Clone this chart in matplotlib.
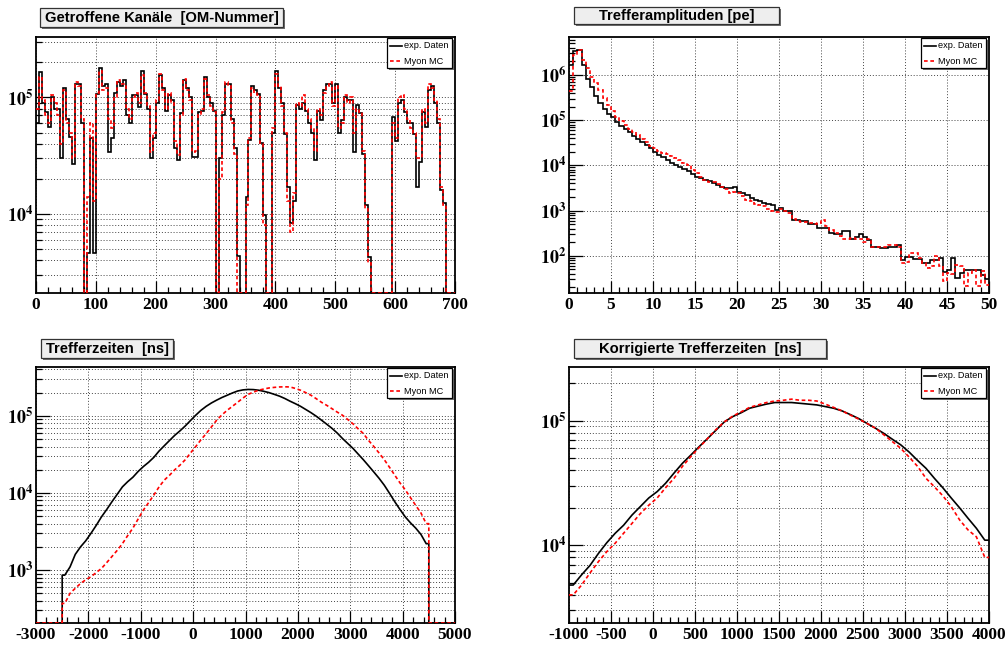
import numpy as np
import matplotlib.pyplot as plt
from matplotlib.patches import Rectangle
from matplotlib.lines import Line2D
from matplotlib.ticker import LogLocator, MultipleLocator, FuncFormatter, NullFormatter

plt.rcParams['mathtext.fontset'] = 'stix'
plt.rcParams['axes.unicode_minus'] = False

# ---- data (bin contents) ----
# Getroffene Kanaele: bins of 5 OM numbers, 0..700
om_width = 5
om_data = [
    6e4, 1.65e5, 9e4, 7.5e4, 5.6e4, 1.0e5, 8e4, 8e4, 3e4, 1.2e5,
    6.5e4, 4.6e4, 2.7e4, 1.3e5, 1.3e5, 6e4, 0, 4.6e3, 4.5e4, 4.6e3,
    1.08e5, 1.8e5, 1.25e5, 1.3e5, 3.4e4, 4.5e4, 1.1e5, 1.35e5, 1.25e5, 1.4e5,
    7e4, 6e4, 1.05e5, 1.05e5, 8.3e4, 1.67e5, 1.08e5, 8e4, 3e4, 4.5e4,
    9e4, 1.55e5, 1.2e5, 7.7e4, 1.05e5, 9.5e4, 3.7e4, 2.9e4, 7.3e4, 1.4e5,
    1.2e5, 1e5, 3.1e4, 3.1e4, 7.5e4, 7.7e4, 1.5e5, 1e5, 9e4, 7.7e4,
    0, 3e4, 7e4, 1.3e5, 1.3e5, 6.5e4, 3.7e4, 4.4e3, 0, 0,
    1.4e4, 4.3e4, 1.25e5, 1.15e5, 1.08e5, 4.1e4, 9.9e3, 0, 0, 5e4,
    1.67e5, 1.2e5, 9e4, 4.9e4, 1.7e4, 8.3e3, 1.3e4, 8.6e4, 8e4, 9e4,
    7.7e4, 6e4, 5e4, 2.9e4, 7.7e4, 6.4e4, 1.16e5, 1.3e5, 1.3e5, 8.9e4,
    1.3e5, 5e4, 6.4e4, 1e5, 9.5e4, 9.5e4, 3.4e4, 8.6e4, 7.3e4, 3.3e4,
    1.2e4, 4.3e3, 0, 0, 0, 0, 0, 0, 0, 6.8e4,
    4.2e4, 9e4, 9.5e4, 7.5e4, 6e4, 6e4, 4.9e4, 1.7e4, 2.8e4, 7.5e4,
    5.6e4, 1.16e5, 1.25e5, 9e4, 6e4, 1.6e4, 1.25e4, 0, 0, 0,
]
om_mc = [
    8e4, 1.5e5, 9.5e4, 7e4, 6e4, 1.05e5, 9e4, 7e4, 4e4, 1.15e5,
    6e4, 5e4, 3e4, 1.35e5, 1.25e5, 6.5e4, 0, 1.4e4, 6e4, 1.3e4,
    1.1e5, 1.7e5, 1.15e5, 1.2e5, 6.5e4, 5.5e4, 1.0e5, 1.4e5, 1.3e5, 1.3e5,
    8e4, 6.5e4, 1.0e5, 1.1e5, 9e4, 1.55e5, 1.1e5, 8.5e4, 3.4e4, 5e4,
    9.5e4, 1.6e5, 1.15e5, 8e4, 1.1e5, 9e4, 4.2e4, 3.2e4, 7e4, 1.45e5,
    1.15e5, 9.5e4, 3.4e4, 3.5e4, 7e4, 8e4, 1.45e5, 1.05e5, 8.5e4, 7.5e4,
    0, 2e4, 7.5e4, 1.35e5, 1.25e5, 6e4, 3.3e4, 0, 0, 0,
    1.2e4, 4.5e4, 1.2e5, 1.1e5, 1.05e5, 4e4, 8e3, 0, 0, 5.5e4,
    1.6e5, 1.25e5, 8.5e4, 5e4, 1.3e4, 7e3, 1.5e4, 9e4, 8.5e4, 1.05e5,
    8e4, 6.5e4, 5.5e4, 3.5e4, 8e4, 7e4, 1.1e5, 1.25e5, 1.35e5, 8.5e4,
    1.25e5, 5.5e4, 6e4, 1.05e5, 9e4, 1e5, 5e4, 8e4, 7.5e4, 3.5e4,
    1.1e4, 3.8e3, 0, 0, 0, 0, 0, 0, 0, 6e4,
    4.5e4, 1e5, 1.05e5, 8e4, 6.5e4, 5.5e4, 5e4, 3e4, 3e4, 8e4,
    6e4, 1.3e5, 1.2e5, 9.5e4, 6.5e4, 1.7e4, 1.2e4, 0, 0, 0,
]

# Trefferamplituden: bins of 0.5 pe, 0..50
amp_width = 0.5
amp_data = [
    1.7e6, 3.4e6, 3.5e6, 1.66e6, 8.2e5, 5.3e5, 3.5e5, 2.4e5, 1.8e5, 1.4e5,
    1.15e5, 9.3e4, 7.6e4, 6.5e4, 5.5e4, 4.5e4, 3.8e4, 3.3e4, 2.8e4, 2.4e4,
    2.0e4, 1.7e4, 1.5e4, 1.3e4, 1.15e4, 1.0e4, 9.0e3, 8.2e3, 7.4e3, 6.4e3,
    5.6e3, 5.2e3, 4.8e3, 4.4e3, 4.0e3, 3.7e3, 3.4e3, 3.2e3, 3.1e3, 3.4e3,
    2.6e3, 2.4e3, 2.2e3, 1.9e3, 1.74e3, 1.6e3, 1.45e3, 1.4e3, 1.34e3, 1.05e3,
    1.15e3, 1.0e3, 1.0e3, 630, 630, 600, 600, 510, 510, 410,
    420, 420, 320, 310, 300, 350, 350, 240, 260, 300,
    260, 220, 160, 160, 150, 150, 160, 160, 170, 82,
    95, 95, 85, 85, 70, 70, 82, 82, 90, 43,
    49, 90, 32, 42, 48, 48, 48, 48, 38, 30,
]
amp_mc = [
    4.3e5, 2.8e6, 3.5e6, 2.1e6, 1.4e6, 9.2e5, 6.6e5, 4.7e5, 3.1e5, 2.2e5,
    1.6e5, 1.2e5, 9.4e4, 7.9e4, 6.5e4, 5.5e4, 4.6e4, 3.9e4, 3.3e4, 2.7e4,
    2.4e4, 2.1e4, 1.9e4, 1.75e4, 1.6e4, 1.45e4, 1.3e4, 1.15e4, 1.0e4, 8.0e3,
    6.8e3, 5.6e3, 4.8e3, 4.3e3, 4.2e3, 3.8e3, 3.4e3, 3.0e3, 2.4e3, 2.6e3,
    2.5e3, 2.1e3, 1.74e3, 1.6e3, 1.4e3, 1.35e3, 1.27e3, 1.1e3, 1.0e3, 950,
    1.1e3, 1.0e3, 880, 650, 580, 560, 550, 530, 500, 520,
    630, 450, 370, 320, 270, 240, 230, 250, 230, 230,
    200, 240, 160, 160, 160, 160, 175, 175, 160, 70,
    74, 115, 118, 90, 70, 54, 60, 100, 58, 27,
    42, 40, 63, 58, 21, 42, 49, 21, 45, 23,
]

# Trefferzeiten: bins of 100 ns, -3000..5000
t_start, t_width = -3000, 100
t_data = [0] * 5 + [
    860, 1.1e3, 1.6e3, 2.0e3, 2.4e3, 3.0e3, 3.8e3, 4.9e3, 6.1e3, 7.7e3,
    9.6e3, 1.2e4, 1.4e4, 1.6e4, 1.9e4, 2.2e4, 2.5e4, 2.9e4, 3.5e4, 4.1e4,
    4.8e4, 5.6e4, 6.4e4, 7.4e4, 8.7e4, 1.02e5, 1.18e5, 1.33e5, 1.47e5, 1.6e5,
    1.73e5, 1.85e5, 1.98e5, 2.1e5, 2.17e5, 2.2e5, 2.19e5, 2.15e5, 2.08e5, 2.0e5,
    1.9e5, 1.8e5, 1.68e5, 1.55e5, 1.44e5, 1.33e5, 1.21e5, 1.1e5, 9.9e4, 8.8e4,
    7.8e4, 6.9e4, 6.0e4, 5.1e4, 4.4e4, 3.8e4, 3.2e4, 2.7e4, 2.25e4, 1.87e4,
    1.55e4, 1.26e4, 9.9e3, 7.7e3, 6.1e3, 4.9e3, 4.1e3, 3.5e3, 2.9e3, 2.2e3,
] + [0] * 5
t_mc = [0] * 5 + [
    370, 500, 580, 670, 750, 820, 930, 1.05e3, 1.25e3, 1.5e3,
    1.8e3, 2.2e3, 2.8e3, 3.5e3, 4.6e3, 6.0e3, 7.5e3, 9.4e3, 1.2e4, 1.47e4,
    1.7e4, 2.0e4, 2.3e4, 2.7e4, 3.3e4, 4.0e4, 4.9e4, 5.9e4, 7.2e4, 8.8e4,
    1.03e5, 1.18e5, 1.33e5, 1.5e5, 1.7e5, 1.9e5, 2.03e5, 2.15e5, 2.23e5, 2.3e5,
    2.34e5, 2.37e5, 2.38e5, 2.37e5, 2.27e5, 2.15e5, 2.0e5, 1.85e5, 1.67e5, 1.5e5,
    1.37e5, 1.24e5, 1.12e5, 1.02e5, 9.0e4, 7.9e4, 6.8e4, 5.9e4, 4.8e4, 4.0e4,
    3.3e4, 2.7e4, 2.15e4, 1.7e4, 1.35e4, 1.1e4, 8.7e3, 6.9e3, 5.5e3, 4.0e3,
] + [0] * 5

# Korrigierte Trefferzeiten: bins of 100 ns, -1000..4000
k_start, k_width = -1000, 100
k_data = [
    4.8e3, 5.8e3, 6.9e3, 8.6e3, 1.05e4, 1.25e4, 1.45e4, 1.75e4, 2.05e4, 2.4e4,
    2.7e4, 3.15e4, 3.8e4, 4.55e4, 5.3e4, 6.2e4, 7.2e4, 8.4e4, 9.8e4, 1.08e5,
    1.16e5, 1.26e5, 1.31e5, 1.36e5, 1.4e5, 1.4e5, 1.4e5, 1.38e5, 1.36e5, 1.34e5,
    1.3e5, 1.26e5, 1.2e5, 1.12e5, 1.04e5, 9.5e4, 8.7e4, 7.9e4, 7.1e4, 6.4e4,
    5.6e4, 4.8e4, 4.15e4, 3.45e4, 2.9e4, 2.4e4, 2.0e4, 1.65e4, 1.37e4, 1.1e4,
]
k_mc = [
    4.0e3, 4.8e3, 6.0e3, 7.4e3, 8.9e3, 1.04e4, 1.25e4, 1.5e4, 1.8e4, 2.1e4,
    2.4e4, 2.9e4, 3.45e4, 4.3e4, 5.15e4, 6.1e4, 7.2e4, 8.5e4, 9.8e4, 1.09e5,
    1.18e5, 1.28e5, 1.34e5, 1.4e5, 1.44e5, 1.46e5, 1.49e5, 1.46e5, 1.46e5, 1.44e5,
    1.36e5, 1.28e5, 1.2e5, 1.11e5, 1.03e5, 9.5e4, 8.7e4, 7.7e4, 6.8e4, 6.0e4,
    5.1e4, 4.3e4, 3.45e4, 2.95e4, 2.5e4, 2.05e4, 1.6e4, 1.33e4, 1.17e4, 8.0e3,
]

labels = ["exp. Daten", "Myon MC"]

# ---- figure layout in pixels ----
W, H = 1006, 645
fig = plt.figure(figsize=(W / 100, H / 100), dpi=100)
fig.patch.set_facecolor('white')

DASH = (0, (2.2, 1.6))


def fx(px):
    return px / W


def fy(py):
    return 1 - py / H


def make_axes(l, t, r, b):
    return fig.add_axes([fx(l), fy(b), (r - l) / W, (b - t) / H])


def box(l, t, r, b, face, edge, lw, shadow=2):
    sh = Rectangle((fx(l + shadow), fy(b + shadow)), (r - l) / W, (b - t) / H,
                   transform=fig.transFigure, facecolor='#6e6e6e', edgecolor='none', zorder=5)
    fig.add_artist(sh)
    rc = Rectangle((fx(l), fy(b)), (r - l) / W, (b - t) / H, transform=fig.transFigure,
                   facecolor=face, edgecolor=edge, linewidth=lw, zorder=6)
    fig.add_artist(rc)


def title_box(l, t, r, b, text):
    box(l, t, r, b, '#eeeeee', '#333333', 0.9)
    fig.text(fx((l + r) / 2), fy((t + b) / 2 + 0.5), text, ha='center', va='center',
             family='Liberation Sans', weight='bold', size=10.6, zorder=7)


def legend_box(ax_r, ax_t):
    l, r, t, b = ax_r - 68, ax_r - 3, ax_t + 1, ax_t + 31
    box(l, t, r, b, 'white', 'black', 0.9)
    for i, (lab, col, ls) in enumerate(zip(labels, ['black', 'red'], ['-', DASH])):
        y = t + 8 + 15 * i
        fig.add_artist(Line2D([fx(l + 3), fx(l + 15)], [fy(y), fy(y)], transform=fig.transFigure,
                              color=col, lw=1.2, ls=ls, zorder=7))
        fig.text(fx(l + 17), fy(y), lab, ha='left', va='center', family='Liberation Sans',
                 size=6.6, zorder=7)


def decade_fmt(v, pos):
    e = int(round(np.log10(v)))
    return r'$\mathbf{10^{%d}}$' % e


def smooth_path(edges, vals, lo):
    # polyline through bin centres, vertical drops next to empty bins
    xs, ys = [], []
    n = len(vals)
    for i, v in enumerate(vals):
        if v > 0:
            if i == 0:
                xs.append(edges[0])
                ys.append(v)
            elif vals[i - 1] <= 0:
                xs += [edges[i], edges[i]]
                ys += [lo, v]
            xs.append(0.5 * (edges[i] + edges[i + 1]))
            ys.append(v)
            if i == n - 1:
                xs.append(edges[-1])
                ys.append(v)
            elif vals[i + 1] <= 0:
                xs += [edges[i + 1], edges[i + 1]]
                ys += [v, lo]
        else:
            xs += [edges[i], edges[i + 1]]
            ys += [lo, lo]
    return xs, ys


def draw_hist(ax, start, width, data, mc, xlim, ylim, xmajor, xminor, minor_grid, smooth=False):
    edges = start + width * np.arange(len(data) + 1)
    lo = ylim[0]
    for vals, col, ls, z in ((data, 'black', '-', 3), (mc, 'red', DASH, 4)):
        if smooth:
            xs, ys = smooth_path(edges, vals, lo)
            ax.plot(xs, ys, color=col, lw=1.2, ls=ls, zorder=z)
        else:
            ax.stairs(np.maximum(np.array(vals, float), lo), edges, baseline=None,
                      color=col, lw=1.2, ls=ls, zorder=z)
    ax.set_yscale('log')
    ax.set_xlim(*xlim)
    ax.set_ylim(*ylim)
    ax.xaxis.set_major_locator(MultipleLocator(xmajor))
    ax.xaxis.set_minor_locator(MultipleLocator(xminor))
    ax.yaxis.set_major_locator(LogLocator(base=10))
    ax.yaxis.set_minor_locator(LogLocator(base=10, subs=np.arange(2, 10)))
    ax.yaxis.set_major_formatter(FuncFormatter(decade_fmt))
    ax.yaxis.set_minor_formatter(NullFormatter())
    ax.tick_params(which='both', direction='in', top=False, right=False)
    ax.tick_params(which='major', length=9, width=0.9, pad=3, labelsize=12.5)
    ax.tick_params(which='minor', length=4.5, width=0.9)
    ax.tick_params(axis='y', which='major', length=10, pad=2, labelsize=13)
    for lab in ax.get_xticklabels():
        lab.set_fontfamily('Liberation Serif')
        lab.set_fontweight('bold')
    gstyle = dict(color='#444444', ls=(0, (1, 2)), lw=0.7)
    ax.grid(True, which='major', axis='x', **gstyle)
    ax.grid(True, which='major', axis='y', **gstyle)
    if minor_grid:
        ax.grid(True, which='minor', axis='y', **gstyle)
    ax.set_axisbelow(True)
    for s in ax.spines.values():
        s.set_linewidth(1.3)


# panel positions (left, top, right, bottom) in px
p1 = (36, 37, 455, 293)
p2 = (569, 37, 989, 293)
p3 = (36, 367, 455, 623)
p4 = (569, 367, 989, 623)

ax1 = make_axes(*p1)
draw_hist(ax1, 0, om_width, om_data, om_mc, (0, 700), (2100, 3.3e5), 100, 20, True)
ax2 = make_axes(*p2)
draw_hist(ax2, 0, amp_width, amp_data, amp_mc, (0, 50), (15, 6.9e6), 5, 1, False)
ax3 = make_axes(*p3)
draw_hist(ax3, t_start, t_width, t_data, t_mc, (-3000, 5000), (206, 4.3e5), 1000, 200, True,
          smooth=True)
ax4 = make_axes(*p4)
draw_hist(ax4, k_start, k_width, k_data, k_mc, (-1000, 4000), (2380, 2.7e5), 500, 100, True,
          smooth=True)

title_box(40, 8, 283, 27, 'Getroffene Kanäle  [OM-Nummer]')
title_box(574, 7, 779, 24, 'Trefferamplituden [pe]')
title_box(41, 339, 173, 358, 'Trefferzeiten  [ns]')
title_box(574, 339, 826, 358, 'Korrigierte Trefferzeiten  [ns]')

for p in (p1, p2, p3, p4):
    legend_box(p[2], p[1])

fig.savefig('out.png', dpi=100)
